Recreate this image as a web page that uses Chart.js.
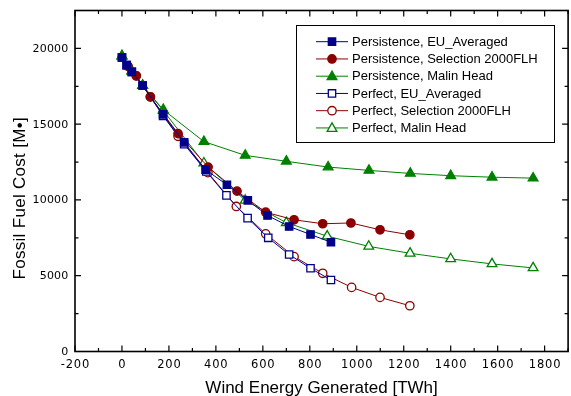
<!DOCTYPE html>
<html>
<head>
<meta charset="utf-8">
<script src="https://cdn.jsdelivr.net/npm/chart.js@4/dist/chart.umd.min.js"></script>
<style>
  html, body { margin: 0; padding: 0; background: #fff; overflow: hidden; }
  canvas { display: block; }
</style>
</head>
<body>
<canvas id="chart" width="575" height="396"></canvas>
<script>
// ===== data =====
const persEuX = [0, 20, 42, 88, 175, 265, 356, 447, 536, 620, 712, 803, 890];
const persEuY = [19400, 18900, 18450, 17550, 15650, 13800, 12000, 11000, 9970, 8975, 8250, 7720, 7210];

const persSelX = [25, 61, 121, 239, 367, 490, 612, 733, 855, 975, 1099, 1226];
const persSelY = [18830, 18190, 16800, 14380, 12170, 10580, 9190, 8690, 8430, 8480, 8030, 7700];

const persMalinX = [0, 42, 88, 176, 349, 525, 700, 878, 1052, 1228, 1400, 1576, 1751];
const persMalinY = [19500, 18500, 17550, 15950, 13850, 12940, 12550, 12170, 11950, 11750, 11600, 11500, 11440];

const perfEuX = [0, 20, 42, 88, 175, 265, 359, 445, 535, 623, 712, 803, 890];
const perfEuY = [19400, 18900, 18450, 17550, 15550, 13680, 11880, 10300, 8800, 7500, 6400, 5490, 4720];

const perfSelX = [25, 61, 121, 239, 366, 487, 612, 733, 855, 978, 1099, 1226];
const perfSelY = [18830, 18190, 16800, 14200, 11800, 9570, 7765, 6260, 5160, 4230, 3570, 3020];

const perfMalinX = [0, 42, 88, 176, 349, 525, 700, 874, 1051, 1227, 1400, 1576, 1751];
const perfMalinY = [19500, 18500, 17550, 15900, 12430, 9970, 8500, 7610, 6935, 6480, 6110, 5780, 5515];

const seriesNames = [
  'Persistence, EU_Averaged',
  'Persistence, Selection 2000FLH',
  'Persistence, Malin Head',
  'Perfect, EU_Averaged',
  'Perfect, Selection 2000FLH',
  'Perfect, Malin Head'
];

const xTickLabels = [-200, 0, 200, 400, 600, 800, 1000, 1200, 1400, 1600, 1800];
const yTickLabels = [0, 5000, 10000, 15000, 20000];

const xTitle = 'Wind Energy Generated [TWh]';
const yTitle = 'Fossil Fuel Cost [M\u2022]';

const BLUE = '#00008B';
const RED = '#8B0000';
const GREEN = '#008000';
const FONT = '"Liberation Sans", Arial, sans-serif';
const TICK_FAMILY = '"DejaVu Sans", sans-serif';

const pts = (xs, ys) => xs.map((x, i) => ({ x, y: ys[i] }));

function series(label, xs, ys, color, style, radius, filled) {
  return {
    label,
    data: pts(xs, ys),
    showLine: true,
    borderColor: color,
    borderWidth: 1,
    backgroundColor: filled ? color : '#fff',
    pointBorderColor: color,
    pointBackgroundColor: filled ? color : '#fff',
    pointBorderWidth: 1.3,
    pointStyle: style,
    pointRadius: radius,
    tension: 0
  };
}

const datasets = [
  series(seriesNames[0], persEuX, persEuY, BLUE, 'rect', 5.2, true),
  series(seriesNames[1], persSelX, persSelY, RED, 'circle', 4.2, true),
  series(seriesNames[2], persMalinX, persMalinY, GREEN, 'triangle', 5.6, true),
  series(seriesNames[3], perfEuX, perfEuY, BLUE, 'rect', 5.2, false),
  series(seriesNames[4], perfSelX, perfSelY, RED, 'circle', 4.2, false),
  series(seriesNames[5], perfMalinX, perfMalinY, GREEN, 'triangle', 5.6, false)
];

// ===== frame, inward ticks, labels, titles, legend =====
const framePlugin = {
  id: 'frame',
  afterDraw(chart) {
    const { ctx, chartArea: a, scales: { x, y } } = chart;
    ctx.save();
    ctx.strokeStyle = '#000';
    ctx.lineWidth = 1.6;
    ctx.strokeRect(a.left, a.top, a.right - a.left, a.bottom - a.top);

    ctx.lineWidth = 1.2;
    ctx.beginPath();
    for (let v = -200; v <= 1900; v += 100) {
      const px = x.getPixelForValue(v);
      const len = v % 200 === 0 ? 6 : 3.5;
      ctx.moveTo(px, a.bottom); ctx.lineTo(px, a.bottom - len);
      ctx.moveTo(px, a.top); ctx.lineTo(px, a.top + len);
    }
    for (let v = 0; v <= 22500; v += 2500) {
      const py = y.getPixelForValue(v);
      const len = v % 5000 === 0 ? 6 : 3.5;
      ctx.moveTo(a.left, py); ctx.lineTo(a.left + len, py);
      ctx.moveTo(a.right, py); ctx.lineTo(a.right - len, py);
    }
    ctx.stroke();

    // tick labels
    ctx.fillStyle = '#000';
    ctx.textBaseline = 'middle';
    ctx.font = '11.5px ' + TICK_FAMILY;
    ctx.letterSpacing = '0.8px';
    ctx.textAlign = 'center';
    xTickLabels.forEach((v) => ctx.fillText(String(v), x.getPixelForValue(v) + 0.4, a.bottom + 13.5));
    ctx.font = '11px ' + TICK_FAMILY;
    ctx.letterSpacing = '0.2px';
    ctx.textAlign = 'right';
    yTickLabels.forEach((v) => ctx.fillText(String(v), 68.5, y.getPixelForValue(v) + 0.5));

    // axis titles
    ctx.font = '17px ' + FONT;
    ctx.letterSpacing = '0px';
    ctx.textAlign = 'center';
    ctx.textBaseline = 'alphabetic';
    ctx.fillText(xTitle, (a.left + a.right) / 2, 393);
    ctx.save();
    ctx.translate(24.5, 198.3);
    ctx.rotate(-Math.PI / 2);
    ctx.letterSpacing = '0.3px';
    ctx.fillText(yTitle, 0, 0);
    ctx.restore();

    // legend box
    ctx.letterSpacing = '0px';
    ctx.fillStyle = '#fff';
    ctx.fillRect(296, 25, 258, 117);
    ctx.lineWidth = 1;
    ctx.strokeStyle = '#000';
    ctx.strokeRect(296.5, 25.5, 258, 117);
    ctx.font = '13px ' + FONT;
    ctx.textAlign = 'left';
    ctx.textBaseline = 'middle';
    chart.data.datasets.forEach((ds, i) => {
      const ly = 41.7 + i * 17.25;
      ctx.strokeStyle = ds.borderColor;
      ctx.lineWidth = 1;
      ctx.beginPath();
      ctx.moveTo(316, ly); ctx.lineTo(348, ly);
      ctx.stroke();
      ctx.fillStyle = ds.pointBackgroundColor;
      ctx.lineWidth = ds.pointBorderWidth;
      const r = ds.pointRadius;
      ctx.beginPath();
      if (ds.pointStyle === 'rect') {
        const s = r * Math.SQRT1_2;
        ctx.rect(332 - s, ly - s, 2 * s, 2 * s);
      } else if (ds.pointStyle === 'circle') {
        ctx.arc(332, ly, r, 0, Math.PI * 2);
      } else {
        for (let k = 0; k < 3; k++) {
          const ang = -Math.PI / 2 + k * 2 * Math.PI / 3;
          const px = 332 + r * Math.cos(ang), py = ly + r * 0.1 + r * Math.sin(ang);
          k === 0 ? ctx.moveTo(px, py) : ctx.lineTo(px, py);
        }
        ctx.closePath();
      }
      ctx.fill();
      ctx.stroke();
      ctx.fillStyle = '#000';
      ctx.fillText(ds.label, 352, ly + 0.5);
    });
    ctx.restore();
  }
};

new Chart(document.getElementById('chart'), {
  type: 'scatter',
  data: { datasets },
  options: {
    responsive: false,
    animation: false,
    devicePixelRatio: 1,
    layout: { padding: { top: 10.5, right: 2.5, left: 0, bottom: 0 } },
    plugins: { legend: { display: false }, tooltip: { enabled: false } },
    scales: {
      x: {
        type: 'linear',
        min: -200,
        max: 1900,
        afterFit: (s) => { s.height = 44.5; s.paddingLeft = 0; s.paddingRight = 0; },
        grid: { display: false },
        border: { display: false },
        ticks: { display: false, stepSize: 100 }
      },
      y: {
        type: 'linear',
        min: 0,
        max: 22500,
        afterFit: (s) => { s.width = 75; s.paddingTop = 0; s.paddingBottom = 0; },
        grid: { display: false },
        border: { display: false },
        ticks: { display: false, stepSize: 2500 }
      }
    }
  },
  plugins: [framePlugin]
});
</script>
</body>
</html>
